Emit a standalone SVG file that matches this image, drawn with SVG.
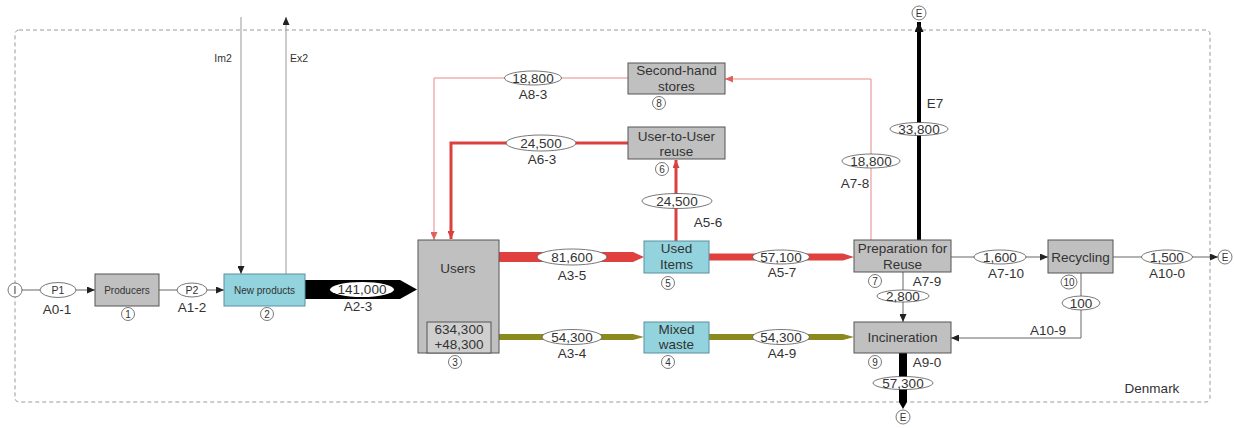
<svg xmlns="http://www.w3.org/2000/svg" width="1234" height="428" viewBox="0 0 1234 428">
<defs>
<style>
text{font-family:"Liberation Sans",Arial,sans-serif;fill:#333;text-anchor:middle}
.t{font-size:13.5px}
.s{font-size:10px}
.c{font-size:10.5px}
.box{fill:#c0c0c0;stroke:#555;stroke-width:1}
.cy{fill:#92d3dd;stroke:#5b8fa0;stroke-width:1}
.num{fill:#fff;stroke:#555;stroke-width:0.8}
.lab{fill:#fff;stroke:#555;stroke-width:0.8}
.thin{fill:none;stroke:#666;stroke-width:1}
.im{fill:none;stroke:#999;stroke-width:1}
.sal{fill:none;stroke:#e58a8a;stroke-width:1}
.red3{fill:none;stroke:#d9403e;stroke-width:3}
</style>
<marker id="ab" markerUnits="userSpaceOnUse" markerWidth="8" markerHeight="7" refX="8" refY="3.5" orient="auto"><path d="M0,0L8,3.5L0,7z" fill="#222"/></marker>
<marker id="ar" markerUnits="userSpaceOnUse" markerWidth="8" markerHeight="7" refX="8" refY="3.5" orient="auto"><path d="M0,0L8,3.5L0,7z" fill="#d9403e"/></marker>
<marker id="as" markerUnits="userSpaceOnUse" markerWidth="8" markerHeight="7" refX="8" refY="3.5" orient="auto"><path d="M0,0L8,3.5L0,7z" fill="#e0605e"/></marker>
<marker id="ak" markerUnits="userSpaceOnUse" markerWidth="10" markerHeight="9" refX="10" refY="4.5" orient="auto"><path d="M0,0L10,4.5L0,9z" fill="#111"/></marker>
</defs>
<rect width="1234" height="428" fill="#fff"/>
<rect id="boundary" x="15" y="30" width="1195" height="372" rx="4" fill="none" stroke="#9a9a9a" stroke-dasharray="4 3"/>
<text class="t" x="1152" y="392.7">Denmark</text>

<g id="connectors">
<line class="thin" x1="22" y1="290" x2="95" y2="290" marker-end="url(#ab)"/>
<line class="thin" x1="159" y1="290" x2="224" y2="290" marker-end="url(#ab)"/>
<line class="im" x1="241" y1="17" x2="241" y2="274" marker-end="url(#ab)"/>
<line class="im" x1="286" y1="274" x2="286" y2="17" marker-end="url(#ab)"/>
<polygon points="305,280 400,280 417,289.5 400,299 305,299" fill="#000"/>
<polygon points="499,252 633,252 644,257 633,262 499,262" fill="#e0403e"/>
<polygon points="709,253.5 843,253.5 854,257 843,260.5 709,260.5" fill="#e0403e"/>
<polygon points="499,334 633,334 644,337 633,340 499,340" fill="#8a8a1e"/>
<polygon points="709,334 843,334 854,337 843,340 709,340" fill="#8a8a1e"/>
<line class="red3" x1="676" y1="241" x2="676" y2="160" marker-end="url(#ar)"/>
<polyline class="red3" points="628,143 451,143 451,239" marker-end="url(#ar)"/>
<polyline class="sal" points="628,78 434,78 434,240" marker-end="url(#as)"/>
<polyline class="sal" points="871,240 871,79 725,79" marker-end="url(#as)"/>
<line x1="919" y1="240" x2="919" y2="22" stroke="#000" stroke-width="4" marker-end="url(#ak)"/>
<line class="thin" x1="903" y1="272" x2="903" y2="322" marker-end="url(#ab)"/>
<polygon points="899,353 907,353 907,402 903,409 899,402" fill="#000"/>
<line class="thin" x1="951" y1="257" x2="1048" y2="257" marker-end="url(#ab)"/>
<polyline class="thin" points="1081,273 1081,338 951,338" marker-end="url(#ab)"/>
<line class="thin" x1="1113" y1="257" x2="1218" y2="257" marker-end="url(#ab)"/>

<ellipse class="lab" cx="58" cy="290" rx="18" ry="7.5"/><text class="c" x="58" y="294">P1</text>
<text class="t" x="57" y="313.5">A0-1</text>
<ellipse class="lab" cx="192" cy="290" rx="15" ry="7"/><text class="c" x="192" y="294">P2</text>
<text class="t" x="192" y="312">A1-2</text>
<text class="c" x="223" y="62">Im2</text>
<text class="c" x="299" y="62">Ex2</text>
<ellipse cx="362" cy="289.5" rx="32" ry="7.5" fill="#fff"/><text class="t" x="362" y="294.2">141,000</text>
<text class="t" x="358" y="311">A2-3</text>
<ellipse class="lab" cx="572" cy="257" rx="35" ry="8"/><text class="t" x="572" y="261.7">81,600</text>
<text class="t" x="572" y="280">A3-5</text>
<ellipse class="lab" cx="781" cy="257" rx="28.5" ry="7"/><text class="t" x="781" y="261.7">57,100</text>
<text class="t" x="782" y="277">A5-7</text>
<ellipse class="lab" cx="572" cy="337" rx="30" ry="7.5"/><text class="t" x="572" y="341.7">54,300</text>
<text class="t" x="572" y="358">A3-4</text>
<ellipse class="lab" cx="781" cy="337" rx="28.5" ry="7.5"/><text class="t" x="781" y="341.7">54,300</text>
<text class="t" x="782" y="358">A4-9</text>
<ellipse class="lab" cx="677" cy="201" rx="35" ry="7.5"/><text class="t" x="677" y="205.7">24,500</text>
<text class="t" x="708" y="227">A5-6</text>
<ellipse class="lab" cx="541" cy="143" rx="35" ry="8"/><text class="t" x="541" y="147.7">24,500</text>
<text class="t" x="542" y="164">A6-3</text>
<ellipse class="lab" cx="533" cy="78" rx="28.5" ry="7"/><text class="t" x="533" y="82.7">18,800</text>
<text class="t" x="533" y="99">A8-3</text>
<ellipse class="lab" cx="871" cy="161" rx="29" ry="7"/><text class="t" x="871" y="165.7">18,800</text>
<text class="t" x="855" y="188">A7-8</text>
<ellipse class="lab" cx="919" cy="129" rx="29" ry="6.5"/><text class="t" x="919" y="133.7">33,800</text>
<text class="t" x="935" y="108">E7</text>
<ellipse class="lab" cx="903" cy="296" rx="26" ry="6"/><text class="t" x="903" y="300.7">2,800</text>
<text class="t" x="927" y="285.7">A7-9</text>
<ellipse class="lab" cx="903" cy="383" rx="30" ry="6.5"/><text class="t" x="903" y="387.7">57,300</text>
<text class="t" x="927" y="366.7">A9-0</text>
<ellipse class="lab" cx="1000" cy="257" rx="26" ry="7"/><text class="t" x="1000" y="261.7">1,600</text>
<text class="t" x="1006" y="277.7">A7-10</text>
<ellipse class="lab" cx="1081" cy="303" rx="19" ry="7"/><text class="t" x="1081" y="307.7">100</text>
<text class="t" x="1048" y="334.7">A10-9</text>
<ellipse class="lab" cx="1167" cy="257" rx="25.5" ry="7"/><text class="t" x="1167" y="261.7">1,500</text>
<text class="t" x="1167" y="277.7">A10-0</text>
</g>

<g id="n-import"><circle class="num" cx="15" cy="290" r="7"/><text class="s" x="15" y="293.5">I</text></g>
<g id="n-exit-top"><circle class="num" cx="919" cy="13" r="7"/><text class="s" x="919" y="16.5">E</text></g>
<g id="n-exit-bottom"><circle class="num" cx="903" cy="417" r="7"/><text class="s" x="903" y="420.5">E</text></g>
<g id="n-exit-right"><circle class="num" cx="1225" cy="257" r="7"/><text class="s" x="1225" y="260.5">E</text></g>

<g id="n-producers"><rect class="box" x="95" y="274" width="64" height="32"/><text class="s" x="127" y="293.5">Producers</text>
<circle class="num" cx="128" cy="314" r="6.5"/><text class="s" x="128" y="317.5">1</text></g>
<g id="n-newproducts"><rect class="cy" x="224" y="274" width="81" height="32"/><text class="s" x="264.5" y="293.5">New products</text>
<circle class="num" cx="267" cy="314" r="6.5"/><text class="s" x="267" y="317.5">2</text></g>
<g id="n-users"><rect class="box" x="418" y="240" width="81" height="113"/><text class="t" x="458" y="272.7">Users</text>
<rect x="427" y="322" width="64" height="31" fill="#cfcfcf" stroke="#555" stroke-width="1"/>
<text class="t" x="459" y="333.7">634,300</text><text class="t" x="459" y="348.7">+48,300</text>
<circle class="num" cx="455" cy="362" r="6.5"/><text class="s" x="455" y="365.5">3</text></g>
<g id="n-used"><rect class="cy" x="644" y="241" width="65" height="32"/><text class="t" x="676.5" y="252.7">Used</text><text class="t" x="676.5" y="268.7">Items</text>
<circle class="num" cx="668" cy="283" r="6.5"/><text class="s" x="668" y="286.5">5</text></g>
<g id="n-mixed"><rect class="cy" x="644" y="322" width="65" height="31"/><text class="t" x="676.5" y="333.7">Mixed</text><text class="t" x="676.5" y="348.7">waste</text>
<circle class="num" cx="668" cy="362" r="6.5"/><text class="s" x="668" y="365.5">4</text></g>
<g id="n-u2u"><rect class="box" x="628" y="127" width="97" height="32"/><text class="t" x="676.5" y="140.7">User-to-User</text><text class="t" x="676.5" y="155.7">reuse</text>
<circle class="num" cx="662" cy="169" r="6.5"/><text class="s" x="662" y="172.5">6</text></g>
<g id="n-secondhand"><rect class="box" x="628" y="63" width="97" height="31"/><text class="t" x="676.5" y="74.7">Second-hand</text><text class="t" x="676.5" y="90.7">stores</text>
<circle class="num" cx="659" cy="103" r="6.5"/><text class="s" x="659" y="106.5">8</text></g>
<g id="n-prep"><rect class="box" x="854" y="240" width="97" height="32"/><text class="t" x="902.5" y="252.7">Preparation for</text><text class="t" x="902.5" y="268.7">Reuse</text>
<circle class="num" cx="875" cy="281" r="6.5"/><text class="s" x="875" y="284.5">7</text></g>
<g id="n-incineration"><rect class="box" x="854" y="322" width="97" height="31"/><text class="t" x="902.5" y="342.2">Incineration</text>
<circle class="num" cx="875" cy="362" r="6.5"/><text class="s" x="875" y="365.5">9</text></g>
<g id="n-recycling"><rect class="box" x="1048" y="240" width="65" height="33"/><text class="t" x="1080.5" y="261.5">Recycling</text>
<ellipse class="num" cx="1069" cy="282" rx="8" ry="7"/><text class="s" x="1069" y="285.5">10</text></g>
</svg>
